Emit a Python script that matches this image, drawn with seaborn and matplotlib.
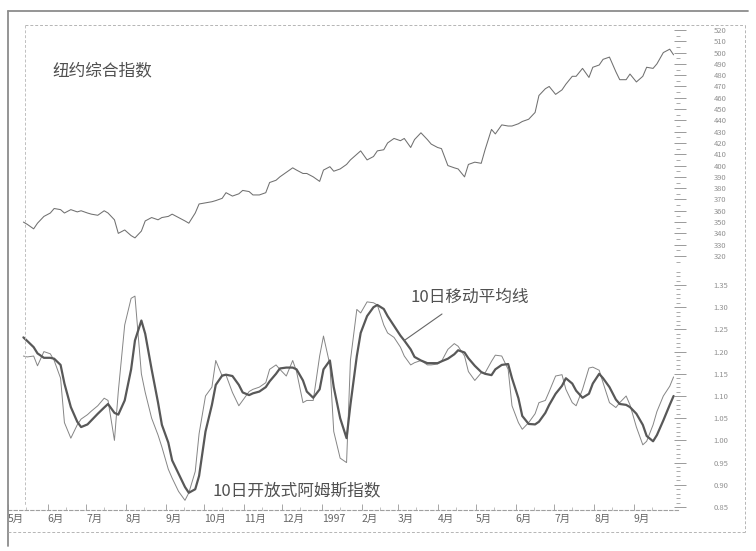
import numpy as np
import pandas as pd
import matplotlib
matplotlib.use("Agg")
import matplotlib.pyplot as plt
import matplotlib.dates as mdates
from matplotlib.ticker import MultipleLocator, FixedLocator
from matplotlib.lines import Line2D
import seaborn as sns

# ---------------- data (one value every 3 trading days) -------------
nyse_composite = [
    350, 348, 344, 349, 355, 358, 362, 361, 358, 361,
    359, 360, 358, 357, 356, 360, 358, 352, 340, 343,
    338, 336, 342, 351, 354, 352, 354, 355, 357, 354,
    351, 349, 358, 366, 367, 368, 369, 371, 376, 373,
    375, 378, 377, 374, 374, 376, 385, 387, 390, 394,
    398, 396, 393, 393, 390, 386, 396, 399, 395, 397,
    401, 405, 410, 413, 405, 408, 413, 414, 420, 424,
    422, 424, 416, 423, 429, 423, 419, 416, 415, 400,
    398, 397, 390, 401, 403, 402, 414, 432, 428, 436,
    435, 435, 437, 439, 441, 447, 462, 468, 470, 463,
    467, 472, 479, 479, 486, 478, 487, 489, 494, 496,
    483, 476, 476, 481, 474, 479, 487, 486, 490, 500,
    503, 498,
]

open_arms = [
    1.190, 1.188, 1.190, 1.168, 1.200, 1.195, 1.180, 1.140, 1.040, 1.005,
    1.035, 1.048, 1.058, 1.066, 1.078, 1.095, 1.090, 1.000, 1.110, 1.260,
    1.320, 1.325, 1.150, 1.108, 1.050, 1.012, 0.985, 0.935, 0.915, 0.885,
    0.865, 0.882, 0.930, 1.015, 1.100, 1.120, 1.180, 1.145, 1.147, 1.108,
    1.078, 1.090, 1.110, 1.115, 1.120, 1.130, 1.160, 1.170, 1.160, 1.145,
    1.180, 1.155, 1.085, 1.090, 1.090, 1.190, 1.235, 1.170, 1.020, 0.960,
    0.950, 1.180, 1.295, 1.287, 1.312, 1.310, 1.305, 1.260, 1.242, 1.232,
    1.210, 1.190, 1.170, 1.175, 1.180, 1.170, 1.170, 1.172, 1.178, 1.205,
    1.218, 1.212, 1.190, 1.155, 1.135, 1.152, 1.152, 1.178, 1.192, 1.190,
    1.160, 1.078, 1.040, 1.025, 1.040, 1.060, 1.085, 1.090, 1.110, 1.145,
    1.148, 1.115, 1.085, 1.078, 1.115, 1.163, 1.165, 1.158, 1.130, 1.085,
    1.074, 1.085, 1.100, 1.080, 1.030, 0.990, 0.998, 1.035, 1.065, 1.100,
    1.122, 1.143,
]

moving_avg_10d = [
    1.232, 1.224, 1.210, 1.196, 1.186, 1.186, 1.184, 1.170, 1.128, 1.075,
    1.042, 1.030, 1.036, 1.045, 1.060, 1.074, 1.082, 1.062, 1.058, 1.090,
    1.160, 1.225, 1.270, 1.240, 1.160, 1.085, 1.035, 0.995, 0.955, 0.925,
    0.895, 0.882, 0.890, 0.920, 1.020, 1.080, 1.125, 1.146, 1.148, 1.145,
    1.125, 1.108, 1.102, 1.106, 1.110, 1.120, 1.133, 1.150, 1.162, 1.164,
    1.164, 1.160, 1.135, 1.110, 1.096, 1.115, 1.160, 1.180, 1.120, 1.050,
    1.005, 1.080, 1.190, 1.242, 1.280, 1.300, 1.305, 1.296, 1.280, 1.258,
    1.236, 1.225, 1.205, 1.188, 1.180, 1.174, 1.174, 1.174, 1.178, 1.184,
    1.194, 1.203, 1.198, 1.185, 1.168, 1.154, 1.150, 1.147, 1.160, 1.170,
    1.172, 1.140, 1.095, 1.055, 1.037, 1.036, 1.042, 1.062, 1.080, 1.105,
    1.123, 1.140, 1.128, 1.112, 1.096, 1.105, 1.128, 1.150, 1.140, 1.120,
    1.092, 1.082, 1.080, 1.075, 1.060, 1.035, 1.010, 0.998, 1.012, 1.045,
    1.080, 1.100,
]

month_labels = ["5月", "6月", "7月", "8月", "9月", "10月", "11月", "12月", "1997",
                "2月", "3月", "4月", "5月", "6月", "7月", "8月", "9月"]

top_ticks = list(range(320, 521, 10))
bottom_ticks = [0.85, 0.90, 0.95, 1.00, 1.05, 1.10, 1.15, 1.20, 1.25, 1.30, 1.35]

title_top = "纽约综合指数"
label_ma = "10日移动平均线"
label_arms = "10日开放式阿姆斯指数"

# ---------------- frames ----------------
n = len(nyse_composite)
dates = pd.bdate_range("1996-05-13", periods=3 * n)[::3][:n]
df = pd.DataFrame({"date": dates, "nyse": nyse_composite,
                   "arms": open_arms, "ma": moving_avg_10d})
month_starts = pd.date_range("1996-05-01", periods=len(month_labels), freq="MS")

sns.set_theme(style="white")
plt.rcParams["font.family"] = ["Noto Sans CJK SC", "DejaVu Sans"]

W, H = 756, 551
fig = plt.figure(figsize=(W / 100, H / 100), dpi=100)
fig.patch.set_facecolor("white")

def fx(px):
    return px / W

def fy(py):
    return 1 - py / H

left, right = fx(8), fx(680)
ax_top = fig.add_axes([left, fy(265), right - left, fy(25) - fy(265)])
ax_bot = fig.add_axes([left, fy(510), right - left, fy(270) - fy(510)], sharex=ax_top)

sns.lineplot(data=df, x="date", y="nyse", ax=ax_top, color="#707070", lw=0.75)
sns.lineplot(data=df, x="date", y="arms", ax=ax_bot, color="#858585", lw=0.7)
sns.lineplot(data=df, x="date", y="ma", ax=ax_bot, color="#585858", lw=1.6)

xmin = pd.Timestamp("1996-05-01")
xmax = pd.Timestamp("1997-10-07")
ax_top.set_xlim(xmin, xmax)
ax_top.set_ylim(312.0, 524.4)
ax_bot.set_ylim(0.8432, 1.3838)

tick_col = "#8a8a8a"
for ax in (ax_top, ax_bot):
    ax.set_facecolor("none")
    ax.set_xlabel("")
    ax.set_ylabel("")
    for s in ax.spines.values():
        s.set_visible(False)
    ax.yaxis.tick_right()
    ax.tick_params(axis="y", which="major", direction="inout", length=8, width=0.6,
                   color=tick_col, labelsize=5.5, labelcolor="#909090", pad=20, right=True, left=False)
    ax.tick_params(axis="y", which="minor", direction="in", length=3, width=0.5,
                   color=tick_col, right=True, left=False)

ax_top.yaxis.set_major_locator(FixedLocator(top_ticks))
ax_top.set_yticklabels([str(t) for t in top_ticks])
ax_top.yaxis.set_minor_locator(MultipleLocator(5))
ax_bot.yaxis.set_major_locator(FixedLocator(bottom_ticks))
ax_bot.set_yticklabels([f"{t:.2f}" for t in bottom_ticks])
ax_bot.yaxis.set_minor_locator(MultipleLocator(0.01))

ax_top.tick_params(axis="x", which="both", bottom=False, labelbottom=False)
ax_bot.spines["bottom"].set_visible(True)
ax_bot.spines["bottom"].set_linestyle((0, (3, 2)))
ax_bot.spines["bottom"].set_color("#a0a0a0")
ax_bot.spines["bottom"].set_linewidth(0.8)
ax_bot.set_xticks(month_starts)
ax_bot.set_xticklabels(month_labels, ha="left")
ax_bot.xaxis.set_minor_locator(mdates.DayLocator(bymonthday=15))
ax_bot.tick_params(axis="x", which="major", direction="in", length=4, width=0.6,
                   color="#999999", labelsize=7.5, labelcolor="#666666", pad=3, bottom=True)
ax_bot.tick_params(axis="x", which="minor", direction="in", length=2, width=0.5,
                   color="#aaaaaa", bottom=True)

# ---------------- text ----------------
txt_col = "#505050"
fig.text(fx(52), fy(71), title_top, fontsize=12, color=txt_col, va="center", ha="left")
fig.text(fx(411), fy(297), label_ma, fontsize=12, color=txt_col, va="center", ha="left")
fig.text(fx(212), fy(491), label_arms, fontsize=12, color=txt_col, va="center", ha="left")

ax_bot.annotate("", xy=(df["date"].iloc[71], df["ma"].iloc[71]),
                xytext=(442, H - 314), textcoords="figure pixels",
                arrowprops=dict(arrowstyle="-", color="#666666", lw=0.8,
                                shrinkA=0, shrinkB=0))

# ---------------- page frame (scanned-book look) ----------------
fig.add_artist(Line2D([fx(8), fx(748)], [fy(11), fy(11)], color="#8c8c8c", lw=1.3))
fig.add_artist(Line2D([fx(8), fx(8)], [fy(11), fy(546)], color="#8c8c8c", lw=1.3))
fig.add_artist(Line2D([fx(25), fx(745)], [fy(25), fy(25)], color="#b5b5b5", lw=0.7, ls=(0, (3, 2))))
fig.add_artist(Line2D([fx(25), fx(25)], [fy(25), fy(505)], color="#c0c0c0", lw=0.7, ls=(0, (3, 2))))
fig.add_artist(Line2D([fx(745), fx(745)], [fy(25), fy(532)], color="#b5b5b5", lw=0.7, ls=(0, (3, 2))))
fig.add_artist(Line2D([fx(8), fx(745)], [fy(532), fy(532)], color="#b5b5b5", lw=0.7, ls=(0, (3, 2))))

fig.savefig("out.png", dpi=100, facecolor="white")
